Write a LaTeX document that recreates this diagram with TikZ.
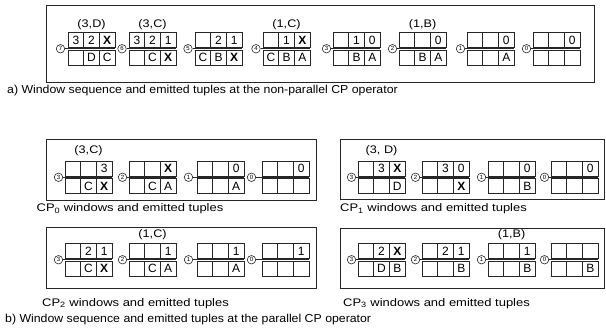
\documentclass[tikz,border=0pt]{standalone}
\usepackage{fontspec}
\setmainfont{Liberation Sans}
\newfontfamily\capfont[FakeStretch=1.07]{Liberation Sans}
\newfontfamily\subfont[FakeStretch=1.18]{Liberation Sans}
\newfontfamily\lblfont[FakeStretch=1.15]{Liberation Sans}
\usetikzlibrary{positioning}

\newcommand{\xx}{\textbf{X}}
% window: name, left x, top y, upper row, lower row
\newcommand{\cpwin}[5]{%
  \foreach \v [count=\i] in {#4}
    \node[cell] (#1t\i) at ({#2+(\i-0.5)*15.7}, {#3+7.5}) {\v};
  \foreach \v [count=\i] in {#5}
    \node[cell] (#1b\i) at ({#2+(\i-0.5)*15.7}, {#3+25}) {\v};
  \coordinate (#1e) at ({#2+47.1}, {#3+16.25});
}

\begin{document}
\begin{tikzpicture}[x=1pt, y=-1pt,
    cell/.style={rectangle, draw=black!85, line width=0.7pt, minimum width=15.7pt, minimum height=15pt, inner sep=0pt, font=\fontsize{12}{12}\selectfont},
    stepno/.style={circle, draw=black!85, line width=0.6pt, minimum size=8.5pt, inner sep=0pt, font=\fontsize{6}{6}\selectfont},
    lbl/.style={inner sep=1pt, font=\lblfont\fontsize{11}{11}\selectfont},
    panel/.style={draw=black!85, line width=0.8pt},
    caption/.style={anchor=west, inner sep=0pt, font=\capfont\fontsize{11.5}{11.5}\selectfont},
    subcap/.style={anchor=west, inner sep=0pt, font=\subfont\fontsize{11}{11}\selectfont},
    link/.style={draw=black!85, line width=0.6pt}
]
    \useasboundingbox (0,0) rectangle (606,333);

    % non-parallel CP operator
    \draw[panel] (46,5.5) rectangle (594,82);
    \cpwin{w7}{68}{32.5}{3,2,\xx}{{},D,C}
    \cpwin{w6}{129}{32.5}{3,2,1}{{},C,\xx}
    \cpwin{w5}{195}{32.5}{{},2,1}{C,B,\xx}
    \cpwin{w4}{263}{32.5}{{},1,\xx}{C,B,A}
    \cpwin{w3}{333}{32.5}{{},1,0}{{},B,A}
    \cpwin{w2}{399}{32.5}{{},{},0}{{},B,A}
    \cpwin{w1}{467}{32.5}{{},{},0}{{},{},A}
    \cpwin{w0}{533}{32.5}{{},{},0}{{},{},{}}
    \node[stepno] (n7) at (60.5,48.75) {7};
    \node[stepno] (n6) at (122,48.75) {6};
    \node[stepno] (n5) at (188,48.75) {5};
    \node[stepno] (n4) at (256,48.75) {4};
    \node[stepno] (n3) at (326.5,48.75) {3};
    \node[stepno] (n2) at (392.5,48.75) {2};
    \node[stepno] (n1) at (460.5,48.75) {1};
    \node[stepno] (n0) at (526.5,48.75) {0};
    \foreach \k in {0,...,7}
        \draw[link] (n\k) -- (w\k e);
    \node[lbl, above=1pt of w7t2] (l7) {(3,D)};
    \node[lbl, above=1pt of w6t2] (l6) {(3,C)};
    \node[lbl, above=1pt of w4t2] (l4) {(1,C)};
    \node[lbl, above=1pt of w2t2] (l2) {(1,B)};
    \node[caption] (capa) at (7,90.5) {a) Window sequence and emitted tuples at the non-parallel CP operator};

    % CP0
    \draw[panel] (46,139) rectangle (316,200);
    \cpwin{p0w3}{65}{161}{{},{},3}{{},C,\xx}
    \cpwin{p0w2}{129}{161}{{},{},\xx}{{},C,A}
    \cpwin{p0w1}{197}{161}{{},{},0}{{},{},A}
    \cpwin{p0w0}{262}{161}{{},{},0}{{},{},{}}
    % CP1
    \draw[panel] (340,139) rectangle (604,199);
    \cpwin{p1w3}{358}{161}{{},3,\xx}{{},{},D}
    \cpwin{p1w2}{422}{161}{{},3,0}{{},{},\xx}
    \cpwin{p1w1}{488}{161}{{},{},0}{{},{},B}
    \cpwin{p1w0}{551}{161}{{},{},0}{{},{},{}}
    % CP2
    \draw[panel] (46,227) rectangle (316,288);
    \cpwin{p2w3}{65}{243.5}{{},2,1}{{},C,\xx}
    \cpwin{p2w2}{129}{243.5}{{},{},1}{{},C,A}
    \cpwin{p2w1}{197}{243.5}{{},{},1}{{},{},A}
    \cpwin{p2w0}{262}{243.5}{{},{},1}{{},{},{}}
    % CP3
    \draw[panel] (340,228) rectangle (604,288);
    \cpwin{p3w3}{358}{243.5}{{},2,\xx}{{},D,B}
    \cpwin{p3w2}{422}{243.5}{{},2,1}{{},{},B}
    \cpwin{p3w1}{488}{243.5}{{},{},1}{{},{},B}
    \cpwin{p3w0}{551}{243.5}{{},{},{}}{{},{},B}

    \foreach \p/\x/\y in {p0/65/177.25, p1/358/177.25, p2/65/259.75, p3/358/259.75} {
        \node[stepno] (\p n3) at (\x-6.5,\y) {3};
        \node[stepno] (\p n2) at (\x+64-6.5,\y) {2};
        \node[stepno] (\p n1) at (\x+130-6.5,\y) {1};
        \node[stepno] (\p n0) at (\x+193-6.5,\y) {0};
        \foreach \k in {0,...,3}
            \draw[link] (\p n\k) -- (\p w\k e);
    }
    \node[lbl, above=4pt of p0w3t2] (lp0) {(3,C)};
    \node[lbl, above=4pt of p1w3t2] (lp1) {(3, D)};
    \node[lbl, above=2pt of p2w2t2] (lp2) {(1,C)};
    \node[lbl, above=2pt of p3w1t2] (lp3) {(1,B)};

    \node[subcap] (cap0) at (36.5,209) {CP\textsubscript{0} windows and emitted tuples};
    \node[subcap] (cap1) at (340,209) {CP\textsubscript{1} windows and emitted tuples};
    \node[subcap] (cap2) at (42,303.5) {CP\textsubscript{2} windows and emitted tuples};
    \node[subcap] (cap3) at (343,303.5) {CP\textsubscript{3} windows and emitted tuples};
    \node[caption] (capb) at (5,320) {b) Window sequence and emitted tuples at the parallel CP operator};
\end{tikzpicture}
\end{document}
